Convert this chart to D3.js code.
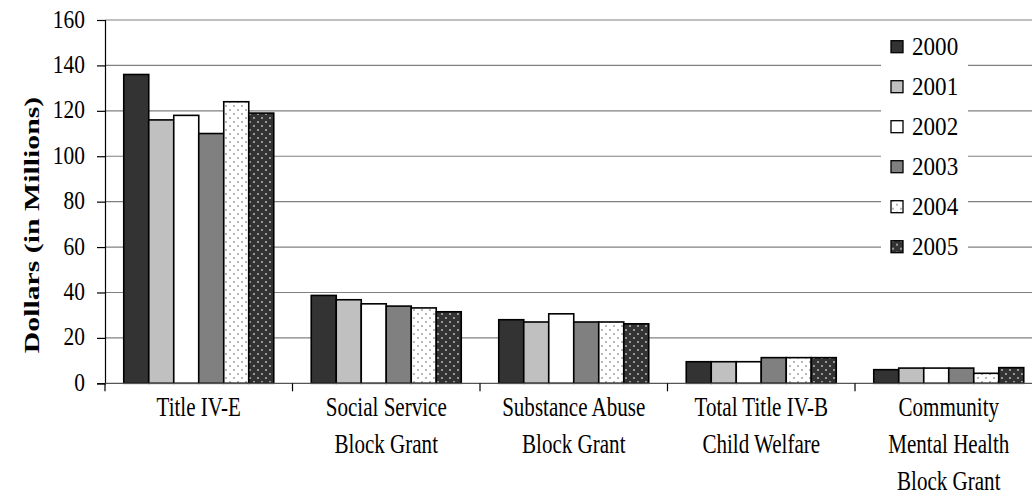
<!DOCTYPE html>
<html><head><meta charset="utf-8">
<script src="https://d3js.org/d3.v7.min.js"></script>
<style>body{margin:0;background:#fff}svg{display:block}text{font-family:"Liberation Serif","Times New Roman",serif}</style>
</head><body><svg id="c" width="1032" height="495"></svg>
<script>
const categories = [["Title IV-E"],["Social Service","Block Grant"],["Substance Abuse","Block Grant"],["Total Title IV-B","Child Welfare"],["Community","Mental Health","Block Grant"]];
const years = ["2000","2001","2002","2003","2004","2005"];
const v2000 = [136, 38.7, 28, 9.5, 6];
const v2001 = [116, 36.8, 27, 9.5, 6.7];
const v2002 = [118, 35, 30.6, 9.5, 6.7];
const v2003 = [110, 34, 27, 11.3, 6.7];
const v2004 = [124, 33.2, 27, 11.3, 4.4];
const v2005 = [119, 31.5, 26.2, 11.3, 6.9];
const yTicks = [0,20,40,60,80,100,120,140,160];
const series = [v2000,v2001,v2002,v2003,v2004,v2005];

const FONT = "Liberation Serif, Times New Roman, serif";
const svg = d3.select("#c");
const L = 105, R = 1042.5, T = 20, B = 383.3;
const defs = svg.append("defs");
function dots(id, bg, dot){
  const p = defs.append("pattern").attr("id",id).attr("patternUnits","userSpaceOnUse").attr("width",8).attr("height",8);
  p.append("rect").attr("width",8).attr("height",8).attr("fill",bg);
  p.append("circle").attr("cx",2).attr("cy",2).attr("r",1).attr("fill",dot);
  p.append("circle").attr("cx",6).attr("cy",6).attr("r",1).attr("fill",dot);
}
dots("p4","#ffffff","#a0a0a0");
dots("p5","#333333","#b8b8b8");
const fills = ["#333333","#c0c0c0","#ffffff","#808080","url(#p4)","url(#p5)"];

const x0 = d3.scaleBand().domain(d3.range(categories.length)).range([L,R]).paddingInner(0.2).paddingOuter(0.1);
const x1 = d3.scaleBand().domain(d3.range(years.length)).range([0,x0.bandwidth()]);
const y = d3.scaleLinear().domain([0,160]).range([B,T]);

// gridlines
svg.append("g").selectAll("line").data(yTicks.filter(d=>d>0)).join("line")
  .attr("x1",L).attr("x2",R).attr("y1",d=>y(d)).attr("y2",d=>y(d))
  .attr("stroke","#808080").attr("stroke-width",1.2);

// bars
const g = svg.append("g");
series.forEach((s,si)=>{
  g.selectAll(null).data(s).join("rect")
    .attr("x",(d,i)=>x0(i)+x1(si)).attr("width",x1.bandwidth())
    .attr("y",d=>y(d)).attr("height",d=>B-y(d))
    .attr("fill",fills[si]).attr("stroke","#000").attr("stroke-width",1.6);
});

// y axis (line + ticks via d3 axis, labels drawn stretched)
const ya = svg.append("g").attr("transform",`translate(${L},0)`)
  .call(d3.axisLeft(y).tickValues(yTicks).tickSize(8).tickFormat(""));
ya.select(".domain").attr("stroke","#000").attr("stroke-width",1.2);
ya.selectAll(".tick line").attr("stroke","#000").attr("stroke-width",1.2);
svg.append("g").selectAll("text").data(yTicks).join("text")
  .attr("transform",d=>`translate(85,${y(d)+7.5}) scale(1.02,1.22)`)
  .attr("text-anchor","end").attr("font-family",FONT).attr("font-size",21).attr("fill","#000").text(d=>d);

// x axis
svg.append("line").attr("x1",L).attr("x2",R).attr("y1",B).attr("y2",B).attr("stroke","#555").attr("stroke-width",1.3);
const xt = d3.range(categories.length+1).map(i=> i<categories.length ? x0(i)-x0.step()*0.1 : R);
svg.append("g").selectAll("line").data(xt).join("line")
  .attr("x1",d=>d).attr("x2",d=>d).attr("y1",B).attr("y2",B+8).attr("stroke","#000").attr("stroke-width",1.2);
categories.forEach((lines,i)=>{
  lines.forEach((t,j)=>{
    svg.append("text")
      .attr("transform",`translate(${x0(i)+x0.bandwidth()/2},${416+j*37}) scale(0.98,1.25)`)
      .attr("text-anchor","middle").attr("font-family",FONT).attr("font-size",21.5).attr("fill","#000").text(t);
  });
});

// y title
svg.append("text").attr("transform","translate(39,225) rotate(-90) scale(1.42,1)")
  .attr("text-anchor","middle").attr("font-family",FONT).attr("font-size",21).attr("font-weight","bold").text("Dollars (in Millions)");

// legend
const lg = svg.append("g");
lg.append("rect").attr("x",881).attr("y",27).attr("width",87).attr("height",238).attr("fill","#fff");
const li = lg.selectAll("g").data(years).join("g").attr("transform",(d,i)=>`translate(891,${46.7+i*40})`);
li.append("rect").attr("x",0).attr("y",-6).attr("width",12).attr("height",12)
  .attr("fill",(d,i)=>fills[i]).attr("stroke","#000").attr("stroke-width",1.3);
li.append("text").attr("transform","translate(21,8) scale(1.05,1.15)")
  .attr("font-family",FONT).attr("font-size",22).attr("fill","#000").text(d=>d);
</script></body></html>
